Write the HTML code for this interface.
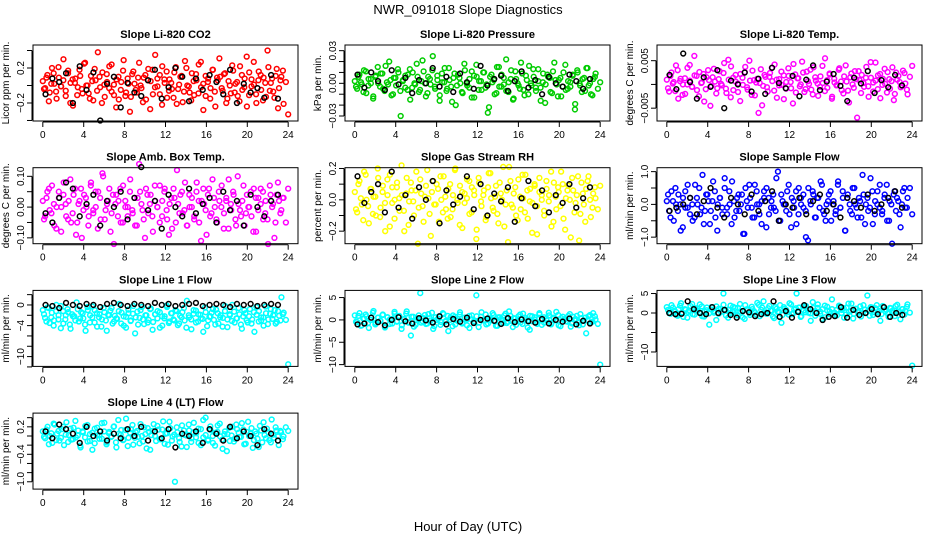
<!DOCTYPE html>
<html><head><meta charset="utf-8"><style>
body{margin:0;background:#fff;}
svg{display:block;font-family:"Liberation Sans",Arial,sans-serif;}
</style></head><body>
<svg id="chart" width="936" height="540" viewBox="0 0 936 540">
<rect width="936" height="540" fill="#fff"/>
<text x="468" y="14" text-anchor="middle" font-size="13">NWR_091018  Slope Diagnostics</text>
<text x="468" y="531" text-anchor="middle" font-size="13">Hour of Day (UTC)</text>
</svg>
<script>
const xTicks=[0,4,8,12,16,20,24];
const co2Vals=[5,-3,12,-8,20,2,-15,9,-1,30,-6,14,-20,7,3,-11,18,-4,25,0,-9,11,-17,6,38,-2,15,-13,4,22,-7,1,-25,10,-5,17,-12,8,-30,13,2,-8,26,-3,9,-16,19,5,-10,35,-1,12,-22,7,16,-6,3,-14,21,-4,10,-19,28,0,-8,14,-11,6,24,-2,-28,11,4,-15,18,-7,9,31,-3,13,-20,5,-9,17,2,-12,22,-5,8,-24,15,-1,27,-10,6,12,-17,3,40,-6,8,-14,19,-3,10,-21,4,-33];
const co2Vals2=[-4,9,-18,2,14,-7,21,-1,6,-12,17,3,-23,8,-2,11,-9,26,0,-15,5,19,-6,10,-20,1,13,-3,24,-11,7,-16,4,29,-8,2,-13,16,-5,9,0,-19,12,6,-27,18,-2,8,-10,22,3,-14,7,-4,15,-21,1,11,-7,20,-1,-17,5,13,-9,27,2,-12,8,-3,18,-24,6,10,-6,14,-15,0,23,-8,4,-18,12,-2,33,-11,7,1,-20,16,-5,9,-13,21,3,-7,11,-26,6,17];
const co2Black=[-10,8,4,14,-20,22,-5,15,-40,2,10,-25,3,-8,-12,6,18,-15,-2,20,10,-18,8,-5,12,4,-10,18,-20,2,-8,-3,-14,12,-15];
const presVals=[2,-5,8,-1,12,-9,4,0,-14,6,15,-3,9,-7,1,20,-11,5,-2,10,-30,3,7,-6,13,-4,0,18,-8,2,11,-12,6,-1,25,-5,3,-16,9,1,-7,14,-3,5,-20,8,0,-9,12,-2,4,-13,7,17,-6,2,10,-4,-27,6,1,-10,15,-3,8,-1,22,-8,4,-15,11,0,-5,9,-11,3,16,-2,6,-7,13,-4,1,-18,8,5,-9,19,-1,3,-12,10,-6,2,-3,7,-24,12,0,-8,5,14,-2,-10,4,9,-5,1];
const presVals2=[-3,6,1,-8,11,-2,4,-12,7,0,9,-5,16,-1,3,-10,5,13,-7,2,-4,8,-15,10,-1,6,-6,21,0,-9,4,12,-3,7,-11,1,14,-5,3,-17,9,-2,5,-8,18,0,-4,11,-13,6,2,-6,10,-1,-22,8,3,-9,15,-3,5,-7,1,12,-14,4,-2,19,-6,7,-10,0,13,-4,2,-16,9,-1,6,-8,11,3,-12,5,-3,17,-5,1,8,-19,10,-2,4,-7,14,0,-11,6];
const presBlack=[8,-4,10,2,-6,12,-1,5,-9,3,0,14,-3,6,-8,9,1,-5,16,-2,4,7,-7,2,11,-4,3,-10,6,0,-3,8,2,-5,4];
const tempVals=[10,-15,25,5,40,-30,12,0,-20,35,8,-5,60,18,-25,3,22,-10,30,-45,15,6,-8,28,-2,45,-18,10,38,-12,20,2,-35,14,26,-6,50,-22,9,4,-60,32,-3,16,-15,24,7,42,-28,11,-1,19,-9,34,5,-40,21,13,-4,48,-16,27,1,-11,36,8,-24,17,3,55,-7,23,-30,12,-2,31,6,-19,40,-13,15,0,28,-70,9,20,-5,37,-26,14,4,46,-10,22,-1,33,-17,11,7,-33,25,18,-6,29,2,-21,16,39];
const tempVals2=[-8,18,2,-14,30,7,-22,13,0,41,-5,19,-12,26,4,-36,15,9,-3,33,-19,11,1,24,-9,52,-27,14,6,-16,22,-1,37,-11,8,29,-23,12,3,-44,20,-6,16,35,-13,10,-2,27,-31,5,18,-8,43,-17,13,0,25,-10,7,31,-21,15,2,-5,39,-14,9,21,-26,4,-1,34,-12,17,6,-38,23,-7,11,28,-18,3,14,-4,47,-15,8,19,-29,12,1,26,-9,36,-20,10,5,-3,24,-11];
const tempBlack=[20,-10,65,5,-30,15,-5,30,-50,8,0,25,-15,12,-20,35,3,-8,18,-25,10,40,-12,6,22,-3,-35,14,2,28,-18,9,-6,20,-2];
const ambVals=[2,-3,5,-1,7,-6,0,3,-8,4,1,-4,9,-2,6,-5,2,-10,4,0,-3,8,-1,5,-7,3,11,-4,1,6,-2,-12,4,2,-5,7,0,-3,5,-1,3,-6,14,1,-4,6,-2,4,-8,2,0,7,-3,5,-1,-9,3,6,-5,1,4,-2,8,-6,0,3,-4,5,2,-11,6,-1,4,-3,9,0,-5,2,7,-2,3,-7,1,5,-4,10,-1,2,-6,4,0,-3,6,-8,3,1,5,-2,-4,7,0,-10,4,2,-1,3,-5,6];
const ambVals2=[-4,3,6,-2,1,-7,5,0,8,-3,2,-5,4,-9,1,6,-1,3,-6,7,-2,0,5,-4,10,-1,2,-8,4,1,-3,6,-5,2,0,9,-2,-6,3,5,-1,-10,4,1,-3,7,0,-5,2,6,-4,1,-7,3,12,-2,5,-1,-6,4,0,-3,8,-5,2,1,-9,6,-2,3,-4,5,0,-7,2,9,-1,4,-6,1,-3,7,-2,0,5,-8,3,-1,6,-4,2,-12,4,1,-5,8,-2,3];
const ambBlack=[-2,-5,3,8,6,-3,1,4,-6,2,0,5,-4,3,13,-1,2,-7,4,0,-3,6,-2,1,3,-5,5,-1,2,-6,4,0,-3,2,4];
const rhVals=[5,-8,12,-3,18,0,-15,7,2,-10,14,-5,9,-20,3,16,-2,-12,8,1,22,-7,4,-16,11,-1,6,-28,13,-4,2,19,-9,5,-3,10,-14,0,15,-6,7,-11,3,20,-2,9,-18,4,1,12,-8,6,-25,14,-1,3,-13,8,17,-5,2,-9,11,0,-17,6,21,-3,4,-10,13,-6,1,16,-12,7,-2,9,-22,5,3,-7,12,-1,18,-14,2,8,-4,10,-19,6,0,14,-8,3,-26,11,-3,7,15,-11,4,1,-6,9];
const rhVals2=[-6,10,1,-13,16,-4,7,-9,2,20,-11,5,-2,13,-17,8,0,11,-7,3,-20,14,-1,6,-10,18,-5,4,-14,9,1,-23,12,-3,7,15,-8,2,-12,10,-6,19,0,-16,5,-2,13,-9,8,3,-19,11,-4,6,-11,17,1,-7,9,-15,4,21,-3,-27,12,-5,8,-13,2,16,-8,6,-1,-21,10,-4,14,0,-10,7,3,-17,11,-6,5,18,-12,1,9,-24,6,-2,15,-9,4,-14,12,0,-5,8];
const rhBlack=[15,-2,5,10,-8,18,-5,3,-12,8,0,12,-15,6,-3,2,15,-6,10,-10,4,-1,8,-14,1,12,-4,6,-8,3,-2,10,-5,1,8];
const sampleVals=[1,-2,4,-5,0,3,-8,2,-1,6,-3,0,-4,2,5,-1,-6,3,1,-2,7,-4,0,2,-3,8,-1,4,-6,1,-2,3,0,-9,5,-1,2,-4,6,0,-3,1,4,-7,2,-1,3,-2,10,-5,1,0,4,-3,2,-1,-6,5,0,3,-2,-11,1,4,-4,2,-1,6,-3,0,3,-5,1,-2,7,-1,4,-8,2,0,-3,5,-1,2,-4,3,0,-2,8,-6,1,4,-1,-3,2,6,-5,0,3,-2,1,-7,4,-1,2,5,-3];
const sampleVals2=[3,-4,1,5,-2,0,-7,4,-1,2,-5,6,0,-3,9,-2,3,-6,1,4,-8,2,-1,5,-3,0,7,-4,2,-2,3,-9,1,6,-1,-4,4,0,-6,2,5,-3,1,-1,8,-5,3,0,-2,6,-7,1,4,-3,2,-1,-10,5,0,3,-4,2,7,-2,-5,1,4,0,-3,6,-1,2,-8,3,-2,5,0,-4,1,9,-6,2,-1,4,-3,0,6,-2,3,-5,1,-12,4,2,-3,0,5,-1];
const sampleBlack=[-2,-1,0,2,-3,1,5,-1,-4,2,0,-3,3,-2,1,4,-5,0,-1,2,-3,1,3,-2,0,-4,2,1,-1,3,-2,0,2,4,-1];
const line1Vals=[-10,-25,-5,-35,-15,-30,0,-20,-45,-12,-28,-8,-38,-18,-22,5,-32,-14,-26,-50,-10,-20,-3,-34,-16,-24,-42,-6,-30,-19,-11,-36,-21,-27,2,-15,-40,-23,-9,-31,-17,-55,-13,-25,-4,-37,-20,-29,-7,-33,-18,-12,-44,-22,-26,-1,-35,-16,-28,-10,-39,-21,-14,-30,8,-24,-47,-17,-11,-32,-19,-27,-5,-41,-23,-15,-29,-9,-36,-20,-25,-2,-43,-18,-31,-13,-26,-6,-38,-22,-16,-34,-8,-28,-52,-19,-12,-30,-24,-3,-37,-17,-27,-10,-33,-21,15,-15,-29,-115];
const line1Vals2=[-18,-32,-6,-24,-40,-12,-28,-2,-36,-20,-14,-46,-22,-30,-8,-26,-16,-38,-4,-34,-24,-10,-42,-18,-28,-14,-50,-20,-6,-32,-26,-12,-36,-22,-44,-16,-30,-2,-24,-38,-10,-28,-20,-34,-8,-48,-18,-26,-14,-40,-22,-4,-32,-16,-30,-12,-36,-24,-6,-44,-20,-28,-10,-34,-18,-26,-52,-14,-30,-22,-8,-38,-16,-24,-42,-12,-28,-20,0,-34,-26,-18,-46,-10,-30,-22,-36,-14,-4,-32,-24,-40,-16,-28,-8,-20,-36,-12,-30,-18];
const line1Black=[0,-2,-6,4,0,-2,2,0,-4,2,4,0,-2,2,0,-2,4,0,2,-2,0,2,4,-2,0,2,0,-4,2,0,2,-2,0,2,0];
const line2Vals=[10,-5,15,-12,3,8,-18,0,20,-7,5,-2,12,-15,6,-9,2,18,-4,9,-20,1,14,-6,-35,7,-11,3,60,-3,11,-8,4,16,-14,0,8,-5,13,-2,-25,6,10,-10,2,17,-6,5,-12,9,1,-3,55,-16,7,-1,12,-8,3,15,-4,-13,6,0,10,-7,19,-2,4,-11,8,-5,14,1,-17,9,-3,6,-9,12,0,-6,3,16,-10,5,-1,11,-14,7,2,-4,13,-8,0,9,-12,4,-2,-30,8,-6,15,1,-9,-100];
const line2Vals2=[-4,9,-13,3,12,-7,0,16,-10,5,-2,11,-17,6,1,-8,14,-3,8,-12,2,19,-5,7,-15,0,10,-6,4,-9,13,-1,-20,6,3,-11,15,-4,9,0,-14,7,-2,12,-8,5,1,-18,10,-3,8,-6,17,0,-10,4,-1,11,-13,6,2,-7,14,-4,9,-16,3,0,12,-9,5,-2,-22,8,1,-5,15,-11,6,-1,10,-7,3,18,-12,4,0,-3,9,-15,7,2,-6,13,-10,5,-1,11,-4,8];
const line2Black=[-10,-8,5,-5,-12,0,6,-3,-8,4,-1,-6,8,-10,2,-4,5,-7,0,3,-2,-9,4,-5,1,-3,-6,2,-8,0,-4,3,-10,-2,-8];
const line3Vals=[15,0,20,5,-5,10,25,-10,8,3,18,-3,12,6,22,-8,4,14,-30,9,1,17,-2,11,50,7,-12,19,2,13,-6,23,5,-15,10,0,16,4,-4,21,8,30,-1,12,6,-9,15,3,20,-5,11,2,25,-3,9,50,14,-8,7,18,1,-20,13,5,22,-2,10,-11,16,4,35,-6,8,19,0,12,-4,24,6,-14,11,3,17,-1,9,45,-7,14,2,20,5,-3,15,8,-10,12,0,18,4,-16,10,6,22,1,-135];
const line3Vals2=[8,-2,14,4,-7,19,1,10,-12,6,23,-4,12,2,17,-9,7,-1,15,5,-18,11,3,21,-6,9,0,16,-3,13,4,-11,20,7,-5,10,2,26,-8,14,1,-2,18,6,-13,11,3,-25,15,8,-4,22,0,12,5,-10,17,2,9,-1,28,-7,13,4,-15,19,6,-3,10,1,-6,16,8,-12,14,3,24,-2,11,5,-9,20,0,7,15,-5,12,2,-20,18,4,-1,13,6,-8,21,3,10,-4,16];
const line3Black=[0,-3,-2,30,10,0,-3,15,0,8,-5,-12,5,2,-8,-3,0,30,-10,5,-12,3,20,10,0,-18,-10,-8,15,-12,8,-5,0,10,-3,15,-10,0,-5];
const line4Vals=[10,-5,20,0,-15,25,5,-10,15,-20,30,2,-8,18,-3,12,-25,8,22,-12,4,-30,16,1,-6,28,10,-18,6,-2,20,-14,35,3,-9,13,-22,7,24,-4,11,-16,0,19,-27,9,2,26,-11,14,-7,32,5,-19,17,-1,-100,8,-13,23,3,-24,12,-5,29,6,-15,15,-3,40,-10,21,0,-21,9,27,-8,4,-33,18,1,-12,25,7,-2,14,-17,31,5,-26,10,-6,22,-14,2,16,-9,36,-4,12,-20,8,-1,19,11];
const line4Vals2=[-2,14,-18,6,27,-9,11,-4,20,3,-13,16,-7,33,1,-21,10,-3,24,-11,7,-16,18,2,-6,29,-14,9,-1,21,-25,5,13,-8,38,-4,15,-19,8,-2,26,-12,4,17,-30,11,0,22,-7,14,-17,6,31,-10,3,19,-5,-23,12,1,25,-13,8,-3,16,-20,35,2,-8,13,-15,7,23,-1,-28,10,4,-11,20,-6,15,-2,28,-18,9,0,17,-9,5,-24,12,30,-5,8,-14,3,19,-1,11,-7];
const line4Black=[10,-5,25,15,5,-15,20,0,10,-10,5,-5,15,0,20,-10,10,-5,15,-25,5,0,10,-15,15,5,-10,20,-5,10,0,-20,15,5,-10];

const panels=[
 {id:'co2',title:'Slope Li-820 CO2',ylab:'Licor ppm per min.',color:'#ff0000',scale:0.01,ymin:-0.406,ymax:0.463,ticks:[-0.4,-0.2,0,0.2,0.4],labels:['','\u22120.2','','0.2',''],vals:co2Vals,vals2:co2Vals2,black:co2Black},
 {id:'pressure',title:'Slope Li-820 Pressure',ylab:'kPa per min.',color:'#00cc00',scale:0.001,ymin:-0.0346,ymax:0.0352,ticks:[-0.03,-0.02,-0.01,0,0.01,0.02,0.03],labels:['\u22120.03','','','0.00','','','0.03'],vals:presVals,vals2:presVals2,black:presBlack},
 {id:'temp',title:'Slope Li-820 Temp.',ylab:'degrees C per min.',color:'#ff00ff',scale:0.0001,ymin:-0.0077,ymax:0.0083,ticks:[-0.005,0,0.005],labels:['\u22120.005','','0.005'],vals:tempVals,vals2:tempVals2,black:tempBlack},
 {id:'amb',title:'Slope Amb. Box Temp.',ylab:'degrees C per min.',color:'#ff00ff',scale:0.01,ymin:-0.119,ymax:0.128,ticks:[-0.1,-0.05,0,0.05,0.1],labels:['\u22120.10','','0.00','','0.10'],vals:ambVals,vals2:ambVals2,black:ambBlack},
 {id:'rh',title:'Slope Gas Stream RH',ylab:'percent per min.',color:'#ffff00',scale:0.01,ymin:-0.28,ymax:0.205,ticks:[-0.2,-0.1,0,0.1,0.2],labels:['\u22120.2','','0.0','','0.2'],vals:rhVals,vals2:rhVals2,black:rhBlack},
 {id:'sample',title:'Slope Sample Flow',ylab:'ml/min per min.',color:'#0000ff',scale:0.1,ymin:-1.2,ymax:1.12,ticks:[-1,-0.5,0,0.5,1],labels:['\u22121.0','','0.0','','1.0'],vals:sampleVals,vals2:sampleVals2,black:sampleBlack},
 {id:'line1',title:'Slope Line 1 Flow',ylab:'ml/min per min.',color:'#00ffff',scale:0.1,ymin:-11.9,ymax:2.82,ticks:[-12,-10,-8,-6,-4,-2,0,2],labels:['','\u221210','','','\u22124','','0',''],vals:line1Vals,vals2:line1Vals2,black:line1Black},
 {id:'line2',title:'Slope Line 2 Flow',ylab:'ml/min per min.',color:'#00ffff',scale:0.1,ymin:-10.4,ymax:6.6,ticks:[-10,-5,0,5],labels:['\u221210','\u22125','0','5'],vals:line2Vals,vals2:line2Vals2,black:line2Black},
 {id:'line3',title:'Slope Line 3 Flow',ylab:'ml/min per min.',color:'#00ffff',scale:0.1,ymin:-13.7,ymax:5.8,ticks:[-10,-5,0,5],labels:['\u221210','','0','5'],vals:line3Vals,vals2:line3Vals2,black:line3Black},
 {id:'line4',title:'Slope Line 4 (LT) Flow',ylab:'ml/min per min.',color:'#00ffff',scale:0.01,ymin:-1.16,ymax:0.5,ticks:[-1,-0.8,-0.6,-0.4,-0.2,0,0.2,0.4],labels:['\u22121.0','','','\u22120.4','','','0.2',''],vals:line4Vals,vals2:line4Vals2,black:line4Black}
];
const NS='http://www.w3.org/2000/svg';
const svg=document.getElementById('chart');
function mk(tag,attrs,parent){const e=document.createElementNS(NS,tag);for(const k in attrs)e.setAttribute(k,attrs[k]);parent.appendChild(e);return e;}
const W=265,H=76;
panels.forEach((p,idx)=>{
 const col=idx%3,row=Math.floor(idx/3);
 const L=33+col*312,T=45+row*122.7;
 const g=mk('g',{},svg);
 
 
 const xs=h=>L+(h+0.96)/25.92*W;
 const ys=v=>T+(p.ymax-v)/(p.ymax-p.ymin)*H;
 const t=mk('text',{x:L+W/2,y:T-7,'text-anchor':'middle','font-size':'11','font-weight':'bold'},g);
 t.textContent=p.title;
 
 
 const yl=mk('text',{x:0,y:0,'text-anchor':'middle','font-size':'10',transform:`translate(${L-24},${T+H/2}) rotate(-90)`},g);
 yl.textContent=p.ylab;
 
 
 const pts=mk('g',{fill:'none','stroke-width':'1.5'},g);
 
 
 const n2=p.vals2.length;
 p.vals2.forEach((v,i)=>{
  const c=mk('circle',{cx:xs((i+0.5)*23.6/n2),cy:ys(v*p.scale),r:2.4,stroke:p.color},pts);
  
  
 });
 const n=p.vals.length;
 p.vals.forEach((v,i)=>{
  const c=mk('circle',{cx:xs(i*24/(n-1)),cy:ys(v*p.scale),r:2.4,stroke:p.color},pts);
  
  
 });
 const m=p.black.length;
 p.black.forEach((v,i)=>{
  const c=mk('circle',{cx:xs((i+0.4)*23.4/m),cy:ys(v*p.scale),r:2.4,stroke:'#000'},pts);
  
  
 });
 const box=mk('rect',{x:L,y:T,width:W,height:H,fill:'none',stroke:'#000','stroke-width':'1'},g);
 
 
 const ax=mk('g',{stroke:'#000','stroke-width':'1'},g);
 
 
 mk('line',{x1:xs(0),x2:xs(24),y1:T+H+1,y2:T+H+1},ax);
 xTicks.forEach(h=>{
  mk('line',{x1:xs(h),x2:xs(h),y1:T+H+1,y2:T+H+6},ax);
  const tl=mk('text',{x:xs(h),y:T+H+17,'text-anchor':'middle','font-size':'10',stroke:'none',fill:'#000'},ax);
  tl.textContent=h;
  
  
 });
 const ay=mk('g',{stroke:'#000','stroke-width':'1'},g);
 
 
 const t0=p.ticks[0],t1=p.ticks[p.ticks.length-1];
 mk('line',{x1:L-1,x2:L-1,y1:ys(t0),y2:ys(t1)},ay);
 p.ticks.forEach((v,i)=>{
  mk('line',{x1:L-1,x2:L-6,y1:ys(v),y2:ys(v)},ay);
  if(p.labels[i]){
   const tl=mk('text',{x:0,y:0,'text-anchor':'middle','font-size':'10',stroke:'none',fill:'#000',transform:`translate(${L-9},${ys(v)}) rotate(-90)`},ay);
   tl.textContent=p.labels[i];
   
   
  }
 });
});
</script>
</body></html>
